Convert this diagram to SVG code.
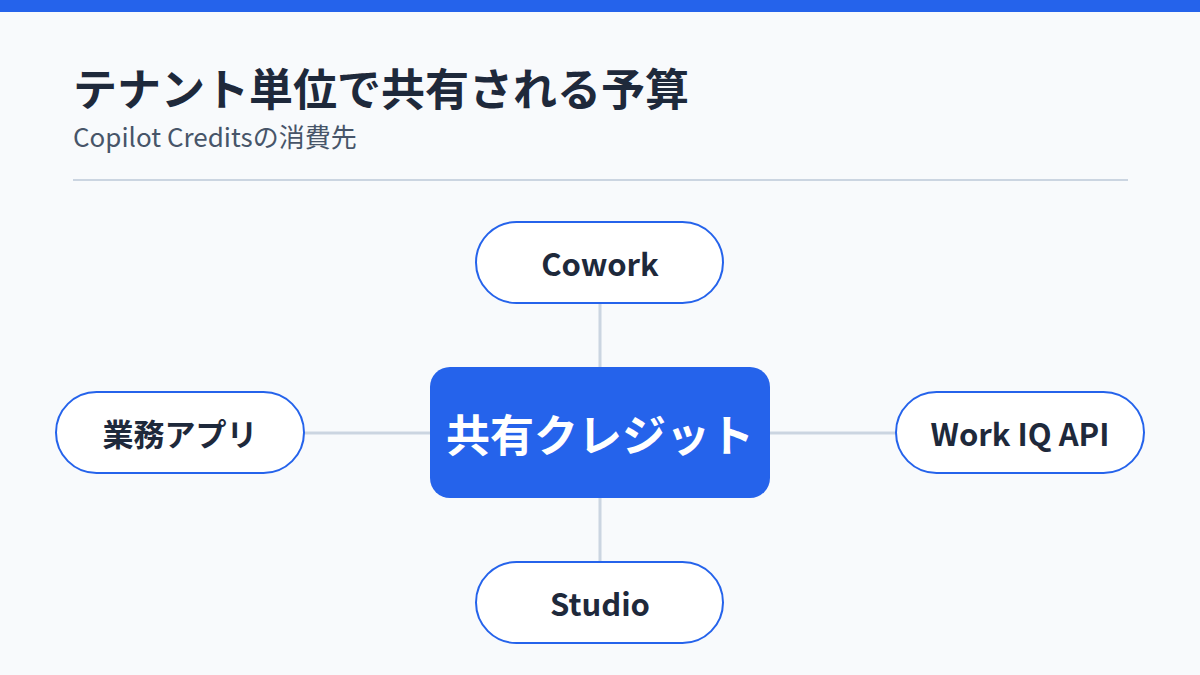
<svg xmlns="http://www.w3.org/2000/svg" width="1200" height="675" viewBox="0 0 1200 675">
<style>
.t{font-family:"Noto Sans CJK JP","Noto Sans",sans-serif}
.node rect{fill:#FFFFFF;stroke:#2563EB;stroke-width:2}
.node text{font-size:31px;font-weight:700;fill:#1E293B;text-anchor:middle;dominant-baseline:central}
.conn line{stroke:#CBD5E1;stroke-width:3}
</style>
<rect width="1200" height="675" fill="#F8FAFC"/>
<rect width="1200" height="12" fill="#2563EB"/>
<text class="t" x="73" y="106" font-size="44" font-weight="700" fill="#1E293B">テナント単位で共有される予算</text>
<text class="t" x="73" y="147" font-size="26" fill="#475569">Copilot Creditsの消費先</text>
<line x1="73" y1="180" x2="1128" y2="180" stroke="#CBD5E1" stroke-width="2"/>
<g id="connectors" class="conn">
<line x1="600" y1="303" x2="600" y2="367"/>
<line x1="600" y1="498" x2="600" y2="562"/>
<line x1="304" y1="433" x2="430" y2="433"/>
<line x1="770" y1="433" x2="896" y2="433"/>
</g>
<g id="center">
<rect x="430" y="367" width="340" height="131" rx="20" fill="#2563EB"/>
<text class="t" x="600" y="433" font-size="44" font-weight="700" fill="#FFFFFF" text-anchor="middle" dominant-baseline="central">共有クレジット</text>
</g>
<g id="cowork" class="node">
<rect x="476" y="222" width="247" height="81" rx="40.5"/>
<text class="t" x="600" y="262">Cowork</text>
</g>
<g id="gyomu" class="node">
<rect x="56" y="392" width="248" height="81" rx="40.5"/>
<text class="t" x="180" y="432">業務アプリ</text>
</g>
<g id="workiq" class="node">
<rect x="896" y="392" width="248" height="81" rx="40.5"/>
<text class="t" x="1020" y="432">Work IQ API</text>
</g>
<g id="studio" class="node">
<rect x="476" y="562" width="247" height="81" rx="40.5"/>
<text class="t" x="600" y="602">Studio</text>
</g>
</svg>
